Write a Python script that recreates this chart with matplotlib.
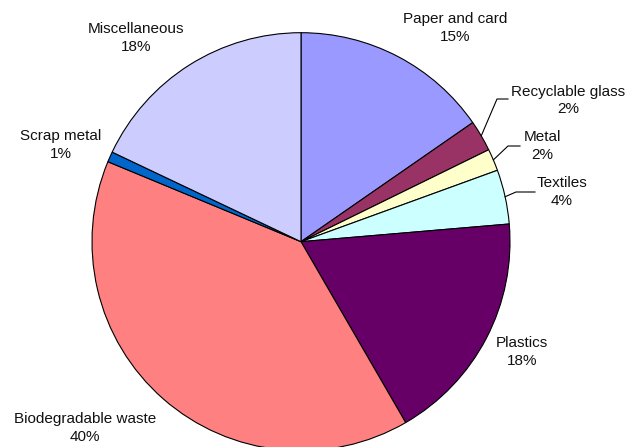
import numpy as np
import matplotlib
matplotlib.use("Agg")
import matplotlib.pyplot as plt

# ----------------------
# DATA
# ----------------------
categories = ["Paper and card", "Recyclable glass", "Metal", "Textiles",
              "Plastics", "Biodegradable waste", "Scrap metal", "Miscellaneous"]
shares = [15.35, 2.4, 1.7, 4.2, 18.0, 39.6, 0.8, 17.95]   # percent
colors = ["#9999FF", "#993366", "#FFFFCC", "#CCFFFF",
          "#660066", "#FF8080", "#0066CC", "#CCCCFF"]

# ----------------------
# LAYOUT (pixel coords, y measured from top)
# ----------------------
W, H = 626, 447
CX, CY, R = 301, 241.7, 209
label_pos = [(455, 28), (568, 100.5), (542, 146), (562, 192),
             (522, 352), (85, 428), (61, 145), (136, 38)]
# leader elbows for the thin slices: (elbow point, end point)
leaders = {1: [(497, 99), (508, 99)],
           2: [(508, 146), (520, 146)],
           3: [(516, 192), (535, 192)]}

plt.rcParams['font.family'] = ['Liberation Sans', 'DejaVu Sans']

fig = plt.figure(figsize=(W / 100, H / 100), dpi=100)
ax = fig.add_axes([0, 0, 1, 1])

ax.pie(shares, colors=colors, startangle=90, counterclock=False,
       center=(CX, H - CY), radius=R,
       wedgeprops=dict(edgecolor='black', linewidth=0.8))

ax.set_xlim(0, W)
ax.set_ylim(0, H)
ax.set_aspect('equal')
ax.axis('off')

# labels
total = float(sum(shares))
cum = np.cumsum([0] + shares[:-1])
for i, (name, val) in enumerate(zip(categories, shares)):
    x, y = label_pos[i]
    pct = int(round(val / total * 100))
    ax.text(x, H - y, f"{name}\n{pct}%", ha='center', va='center',
            multialignment='center', fontsize=11, linespacing=1.3,
            color='#111111')
    if i in leaders:
        mid = (cum[i] + val / 2) / total * 2 * np.pi
        sx = CX + R * np.sin(mid)
        sy = CY - R * np.cos(mid)
        pts = [(sx, sy)] + leaders[i]
        ax.plot([p[0] for p in pts], [H - p[1] for p in pts],
                color='black', linewidth=0.8)

plt.savefig("out.png", dpi=100)
